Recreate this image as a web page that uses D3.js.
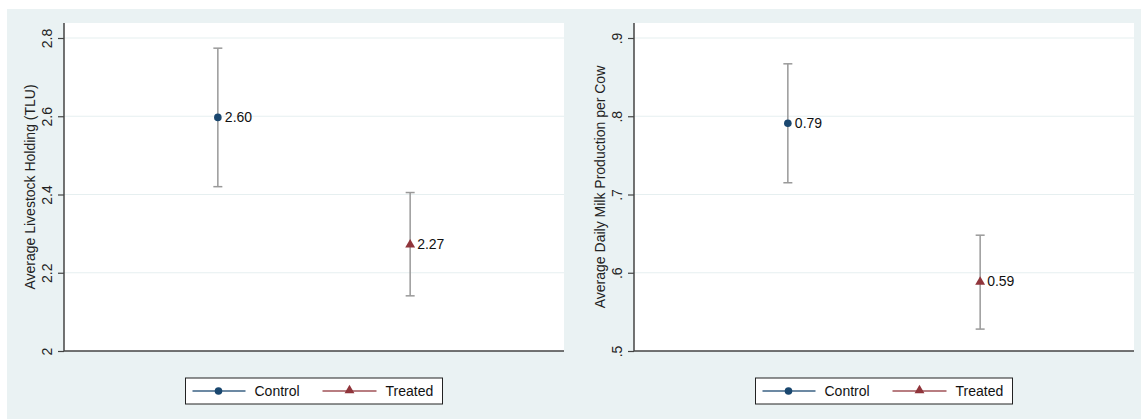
<!DOCTYPE html>
<html>
<head>
<meta charset="utf-8">
<script src="https://cdn.jsdelivr.net/npm/d3@7"></script>
<style>
  body { margin: 0; background: #ffffff; }
  svg { display: block; font-family: "Liberation Sans", Arial, sans-serif; }
</style>
</head>
<body>
<svg id="chart" width="1141" height="419"></svg>
<script>
// ---- data ----
const groups = ["Control", "Treated"];

const livestockMean = [2.597, 2.273];
const livestockLow  = [2.420, 2.141];
const livestockHigh = [2.774, 2.405];
const livestockLabels = ["2.60", "2.27"];
const livestockTicks = [2, 2.2, 2.4, 2.6, 2.8];
const livestockTickLabels = ["2", "2.2", "2.4", "2.6", "2.8"];

const milkMean = [0.791, 0.589];
const milkLow  = [0.715, 0.528];
const milkHigh = [0.867, 0.648];
const milkLabels = ["0.79", "0.59"];
const milkTicks = [0.5, 0.6, 0.7, 0.8, 0.9];
const milkTickLabels = [".5", ".6", ".7", ".8", ".9"];

const titles = ["Average Livestock Holding (TLU)", "Average Daily Milk Production per Cow"];

// ---- style ----
const colors = { Control: "#1a476f", Treated: "#90353b" };
const bg = "#eaf2f3";
const gridColor = "#e6eff0";
const barColor = "#999999";
const axisColor = "#444444";
const FS = 14;

const svg = d3.select("#chart");
svg.append("rect").attr("x", 7).attr("y", 9).attr("width", 1134).attr("height", 410).attr("fill", bg);

function panel(opts) {
  const { left, right, top, bottom, ticks, tickLabels, mean, low, high, labels, title } = opts;
  const g = svg.append("g");
  // ticks[0] sits on the bottom axis, ticks[4] at y=38
  const y = d3.scaleLinear().domain([ticks[0], ticks[4]]).range([bottom, 38]);
  const x = d3.scalePoint().domain(groups).range([left, right]).padding(0.8);

  // plot region
  g.append("rect").attr("x", left).attr("y", top).attr("width", right - left).attr("height", bottom - top).attr("fill", "#ffffff");

  // gridlines
  g.selectAll(".grid").data(ticks.slice(1)).enter().append("line")
    .attr("x1", left).attr("x2", right)
    .attr("y1", d => y(d)).attr("y2", d => y(d))
    .attr("stroke", gridColor).attr("stroke-width", 1.2);

  // y axis
  const axis = d3.axisLeft(y).tickValues(ticks).tickFormat((d, i) => tickLabels[i]).tickSize(6).tickSizeOuter(0);
  const ag = g.append("g").attr("transform", `translate(${left},0)`).call(axis);
  ag.select(".domain").attr("stroke", axisColor).attr("stroke-width", 1.5).attr("d", `M0,${bottom}V${top}`);
  ag.selectAll(".tick line").attr("stroke", axisColor).attr("stroke-width", 1.2);
  ag.selectAll(".tick text")
    .attr("font-size", FS).attr("fill", "#222")
    .attr("font-family", "Liberation Sans, Arial, sans-serif")
    .attr("text-anchor", "middle")
    .attr("transform", "rotate(-90)")
    .attr("x", 0).attr("y", -12).attr("dy", 0);

  // bottom axis line
  g.append("line").attr("x1", left).attr("x2", right).attr("y1", bottom).attr("y2", bottom)
    .attr("stroke", axisColor).attr("stroke-width", 1.5);

  // y title
  g.append("text").attr("transform", `translate(${left - 29},${(top + bottom) / 2}) rotate(-90)`)
    .attr("text-anchor", "middle").attr("font-size", FS).attr("fill", "#222").text(title);

  // error bars
  groups.forEach((grp, i) => {
    const cx = x(grp);
    g.append("line").attr("x1", cx).attr("x2", cx).attr("y1", y(low[i])).attr("y2", y(high[i]))
      .attr("stroke", barColor).attr("stroke-width", 1.5);
    [low[i], high[i]].forEach(v => {
      g.append("line").attr("x1", cx - 4.5).attr("x2", cx + 4.5).attr("y1", y(v)).attr("y2", y(v))
        .attr("stroke", barColor).attr("stroke-width", 1.5);
    });
    const cy = y(mean[i]);
    if (grp === "Control") {
      g.append("circle").attr("cx", cx).attr("cy", cy).attr("r", 3.8).attr("fill", colors[grp]);
    } else {
      g.append("path").attr("d", d3.symbol().type(d3.symbolTriangle).size(42)())
        .attr("transform", `translate(${cx},${cy + 0.5})`).attr("fill", colors[grp]);
    }
    g.append("text").attr("x", cx + 7).attr("y", cy).attr("dy", "0.35em")
      .attr("font-size", FS).attr("fill", "#111").text(labels[i]);
  });

  // legend
  const cxL = (left + right) / 2;
  const lx = cxL - 128.5, ly = 378;
  const lg = g.append("g").attr("transform", `translate(${lx},${ly})`);
  lg.append("rect").attr("x", 0).attr("y", 0).attr("width", 257).attr("height", 26)
    .attr("fill", "#ffffff").attr("stroke", "#222").attr("stroke-width", 1);
  const items = [
    { name: "Control", x0: 7, x1: 60, mx: 33, tx: 69 },
    { name: "Treated", x0: 137, x1: 191, mx: 164, tx: 200 }
  ];
  items.forEach(it => {
    lg.append("line").attr("x1", it.x0).attr("x2", it.x1).attr("y1", 13).attr("y2", 13)
      .attr("stroke", colors[it.name]).attr("stroke-width", 1.3).attr("opacity", 0.85);
    if (it.name === "Control") {
      lg.append("circle").attr("cx", it.mx).attr("cy", 13).attr("r", 3.8).attr("fill", colors[it.name]);
    } else {
      lg.append("path").attr("d", d3.symbol().type(d3.symbolTriangle).size(42)())
        .attr("transform", `translate(${it.mx},12.5)`).attr("fill", colors[it.name]);
    }
    lg.append("text").attr("x", it.tx).attr("y", 13).attr("dy", "0.35em")
      .attr("font-size", FS).attr("fill", "#111").text(it.name);
  });
}

panel({ left: 64, right: 564, top: 23, bottom: 351,
  ticks: livestockTicks, tickLabels: livestockTickLabels,
  mean: livestockMean, low: livestockLow, high: livestockHigh, labels: livestockLabels, title: titles[0] });

panel({ left: 634, right: 1134, top: 23, bottom: 351,
  ticks: milkTicks, tickLabels: milkTickLabels,
  mean: milkMean, low: milkLow, high: milkHigh, labels: milkLabels, title: titles[1] });
</script>
</body>
</html>
